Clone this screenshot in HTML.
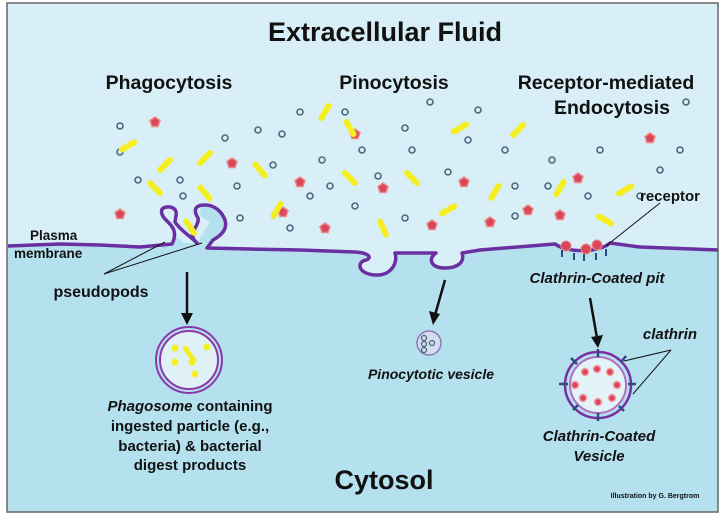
<!DOCTYPE html>
<html><head><meta charset="utf-8"><style>
html,body{margin:0;padding:0;background:#fff;}
svg{display:block;}
text{font-family:"Liberation Sans",sans-serif;font-weight:bold;fill:#111;}
</style></head><body>
<svg width="720" height="519" viewBox="0 0 720 519" xmlns="http://www.w3.org/2000/svg">
<defs>
<g id="o"><circle r="3" fill="none" stroke="#4a6a80" stroke-width="1.6"/></g>
<g id="r"><polygon points="0,-5 5,-1.5 3,4.5 -3,4.5 -5,-1.5" fill="#d9485a" stroke="#e88" stroke-width="1.5"/></g>
<g id="y"><rect x="-10" y="-3" width="20" height="6" rx="3" fill="#f5ee20"/></g>
</defs>
<rect x="0" y="0" width="720" height="519" fill="#fff"/>
<rect x="7" y="3" width="711" height="509" fill="#b5e1ef"/>
<path d="M7,3 H718 V250 L640,247 L610,243 C600,252 570,254 555,244 L480,250 L462,253 C465,262 458,268 445,268 C430,268 428,258 436,253 L395,252 C398,262 392,276 375,275 C358,274 356,262 366,260 C372,258 370,253 355,252 L300,250 L250,249 L207,248 L212,240 C230,235 228,220 218,210 L205,205 C195,210 200,218 210,222 L197,243 L185,243 C175,236 170,232 165,228 L158,214 C158,206 180,208 175,218 C170,225 178,232 172,244 L140,247 L100,245 L60,244 L7,246 Z" fill="#d8eff7"/>
<rect x="7" y="3" width="711" height="509" fill="none" stroke="#666" stroke-width="1.5"/>
<path d="M8,246 L60,244 L100,245 L140,247 L172,244 C178,232 172,226 168,222 C160,215 158,206 170,207 C180,209 175,218 175,222 C180,230 190,236 197,243 C186,234 200,226 198,218 C193,210 195,205 205,205 C215,205 222,212 225,220 C228,230 220,236 213,240 L207,248 L250,249 L300,250 L355,252 C370,253 372,258 366,260 C356,262 358,274 375,275 C392,276 398,262 395,253 L436,253 C428,258 430,268 445,268 C458,268 465,262 462,253 L480,250 L555,244 C570,254 600,252 610,243 L640,247 L718,250" fill="none" stroke="#6a2fa0" stroke-width="3.5" stroke-linejoin="round"/>
<g>
<use href="#o" x="120" y="152"/><use href="#o" x="183" y="196"/><use href="#o" x="180" y="180"/><use href="#o" x="237" y="186"/><use href="#o" x="225" y="138"/><use href="#o" x="120" y="126"/><use href="#o" x="240" y="218"/><use href="#o" x="273" y="165"/><use href="#o" x="310" y="196"/><use href="#o" x="330" y="186"/><use href="#o" x="355" y="206"/><use href="#o" x="282" y="134"/><use href="#o" x="300" y="112"/><use href="#o" x="322" y="160"/><use href="#o" x="345" y="112"/><use href="#o" x="362" y="150"/><use href="#o" x="378" y="176"/><use href="#o" x="405" y="128"/><use href="#o" x="412" y="150"/><use href="#o" x="405" y="218"/><use href="#o" x="430" y="102"/><use href="#o" x="448" y="172"/><use href="#o" x="468" y="140"/><use href="#o" x="478" y="110"/><use href="#o" x="505" y="150"/><use href="#o" x="515" y="186"/><use href="#o" x="515" y="216"/><use href="#o" x="548" y="186"/><use href="#o" x="552" y="160"/><use href="#o" x="560" y="110"/><use href="#o" x="588" y="196"/><use href="#o" x="600" y="150"/><use href="#o" x="640" y="196"/><use href="#o" x="660" y="170"/><use href="#o" x="686" y="102"/><use href="#o" x="680" y="150"/><use href="#o" x="138" y="180"/><use href="#o" x="290" y="228"/><use href="#o" x="258" y="130"/>
<use href="#r" x="155" y="122"/><use href="#r" x="232" y="163"/><use href="#r" x="120" y="214"/><use href="#r" x="283" y="212"/><use href="#r" x="300" y="182"/><use href="#r" x="325" y="228"/><use href="#r" x="355" y="134"/><use href="#r" x="383" y="188"/><use href="#r" x="432" y="225"/><use href="#r" x="464" y="182"/><use href="#r" x="528" y="210"/><use href="#r" x="490" y="222"/><use href="#r" x="560" y="215"/><use href="#r" x="578" y="178"/><use href="#r" x="650" y="138"/>
<use href="#y" transform="translate(128,146) rotate(-30)"/><use href="#y" transform="translate(165,165) rotate(-45)"/><use href="#y" transform="translate(205,158) rotate(-45)"/><use href="#y" transform="translate(155,188) rotate(45)"/><use href="#y" transform="translate(205,193) rotate(50)"/><use href="#y" transform="translate(190,227) rotate(55)"/><use href="#y" transform="translate(277,210) rotate(-60)"/><use href="#y" transform="translate(260,170) rotate(50)"/><use href="#y" transform="translate(350,128) rotate(60)"/><use href="#y" transform="translate(350,178) rotate(45)"/><use href="#y" transform="translate(383,228) rotate(65)"/><use href="#y" transform="translate(448,210) rotate(-30)"/><use href="#y" transform="translate(412,178) rotate(45)"/><use href="#y" transform="translate(460,128) rotate(-30)"/><use href="#y" transform="translate(495,192) rotate(-60)"/><use href="#y" transform="translate(518,130) rotate(-45)"/><use href="#y" transform="translate(560,188) rotate(-60)"/><use href="#y" transform="translate(625,190) rotate(-30)"/><use href="#y" transform="translate(605,220) rotate(30)"/><use href="#y" transform="translate(325,112) rotate(-60)"/>
</g>
<g fill="#d9485a" stroke="#e88"><circle cx="566" cy="246" r="5"/><circle cx="586" cy="249" r="5"/><circle cx="597" cy="245" r="5"/></g>
<g stroke="#2b4a80" stroke-width="2"><line x1="562" y1="250" x2="562" y2="257"/><line x1="574" y1="253" x2="574" y2="260"/><line x1="584" y1="254" x2="584" y2="261"/><line x1="596" y1="253" x2="596" y2="260"/><line x1="606" y1="249" x2="606" y2="256"/></g>
<line x1="606" y1="246" x2="660" y2="203" stroke="#111" stroke-width="1"/>
<line x1="104" y1="274" x2="165" y2="242" stroke="#111" stroke-width="1"/>
<line x1="104" y1="274" x2="202" y2="243" stroke="#111" stroke-width="1"/>
<g stroke="#111" stroke-width="2.5" fill="#111">
<line x1="187" y1="272" x2="187" y2="315"/><polygon points="181,313 193,313 187,325" stroke="none"/>
<line x1="445" y1="280" x2="435" y2="315"/><polygon points="429,311 440,314 433,325" stroke="none"/>
<line x1="590" y1="298" x2="597" y2="338"/><polygon points="591,337 603,335 598,348" stroke="none"/>
</g>
<circle cx="189" cy="360" r="33" fill="none" stroke="#8a3aa8" stroke-width="2"/>
<circle cx="189" cy="360" r="29" fill="#e0f1f6" stroke="#8a3aa8" stroke-width="2"/>
<g fill="#f5ee20"><circle cx="175" cy="348" r="3.5"/><circle cx="207" cy="347" r="3.5"/><circle cx="175" cy="362" r="3.5"/><circle cx="192" cy="362" r="3.5"/><circle cx="195" cy="374" r="3.5"/></g>
<rect x="180" y="352" width="20" height="5" rx="2.5" fill="#f5ee20" transform="rotate(55 190 354)"/>
<circle cx="429" cy="343" r="12" fill="#d6ddf0" stroke="#8a7ab8" stroke-width="1.5"/>
<g fill="none" stroke="#4a6a80" stroke-width="1.3"><circle cx="424" cy="338" r="2.5"/><circle cx="424" cy="344" r="2.5"/><circle cx="424" cy="350" r="2.5"/><circle cx="432" cy="343" r="2.5"/></g>
<circle cx="598" cy="385" r="33" fill="none" stroke="#7a2fa0" stroke-width="2.5"/>
<circle cx="598" cy="385" r="28" fill="#e4f3f7" stroke="#b070c0" stroke-width="2"/>
<g fill="#d9485a" stroke="#f0a0a8" stroke-width="1.5"><circle cx="597" cy="369" r="3.5"/><circle cx="585" cy="372" r="3.5"/><circle cx="610" cy="372" r="3.5"/><circle cx="575" cy="385" r="3.5"/><circle cx="617" cy="385" r="3.5"/><circle cx="583" cy="398" r="3.5"/><circle cx="598" cy="402" r="3.5"/><circle cx="612" cy="398" r="3.5"/></g>
<g stroke="#2b4a80" stroke-width="2.5"><line x1="598" y1="349" x2="598" y2="357"/><line x1="598" y1="413" x2="598" y2="421"/><line x1="559" y1="384" x2="568" y2="384"/><line x1="628" y1="384" x2="636" y2="384"/><line x1="571" y1="358" x2="577" y2="364"/><line x1="621" y1="362" x2="626" y2="356"/><line x1="573" y1="410" x2="578" y2="405"/><line x1="619" y1="406" x2="624" y2="411"/></g>
<line x1="624" y1="361" x2="671" y2="350" stroke="#111" stroke-width="1"/>
<line x1="633" y1="394" x2="671" y2="350" stroke="#111" stroke-width="1"/>
<text x="385" y="41" font-size="27" text-anchor="middle">Extracellular Fluid</text>
<text x="169" y="89" font-size="19.5" text-anchor="middle">Phagocytosis</text>
<text x="394" y="89" font-size="19.5" text-anchor="middle">Pinocytosis</text>
<text x="606" y="89" font-size="19.5" text-anchor="middle">Receptor-mediated</text>
<text x="612" y="114" font-size="19.5" text-anchor="middle">Endocytosis</text>
<text x="670" y="201" font-size="15" text-anchor="middle">receptor</text>
<text x="30" y="240" font-size="13.5">Plasma</text>
<text x="14" y="258" font-size="13.5">membrane</text>
<text x="101" y="297" font-size="16" text-anchor="middle">pseudopods</text>
<text x="597" y="283" font-size="15" font-style="italic" text-anchor="middle">Clathrin-Coated pit</text>
<text x="670" y="339" font-size="15" font-style="italic" text-anchor="middle">clathrin</text>
<text x="431" y="379" font-size="14" font-style="italic" text-anchor="middle">Pinocytotic vesicle</text>
<text x="190" y="411" font-size="15" text-anchor="middle"><tspan font-style="italic">Phagosome</tspan> containing</text>
<text x="190" y="431" font-size="15" text-anchor="middle">ingested particle (e.g.,</text>
<text x="190" y="451" font-size="15" text-anchor="middle">bacteria) &amp; bacterial</text>
<text x="190" y="470" font-size="15" text-anchor="middle">digest products</text>
<text x="599" y="441" font-size="15" font-style="italic" text-anchor="middle">Clathrin-Coated</text>
<text x="599" y="461" font-size="15" font-style="italic" text-anchor="middle">Vesicle</text>
<text x="384" y="489" font-size="27" text-anchor="middle">Cytosol</text>
<text x="655" y="498" font-size="7" font-weight="normal" text-anchor="middle">Illustration by G. Bergtrom</text>
</svg>
</body></html>
